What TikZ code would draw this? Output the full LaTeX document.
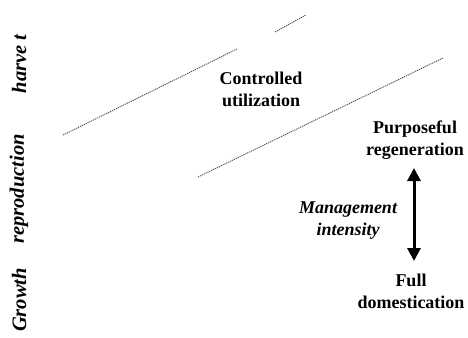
\documentclass[tikz,border=0pt]{standalone}
\usepackage{fontspec}
\setmainfont{Liberation Serif}
\usetikzlibrary{arrows.meta}
\tikzset{
  lbl/.style={font=\fontsize{18}{22}\selectfont\bfseries, align=center, inner sep=0pt},
  ilbl/.style={font=\fontsize{18}{22}\selectfont\bfseries\itshape, align=center, inner sep=0pt},
  axlbl/.style={font=\fontsize{20.5}{24}\selectfont\bfseries\itshape, rotate=90, inner sep=0pt},
  boundary/.style={draw=black!70, line width=0.9pt, dash pattern=on 1.2pt off 0.9pt},
  intens/.style={line width=3pt, {Triangle[width=13pt,length=13pt]}-{Triangle[width=13pt,length=13pt]}}
}
\begin{document}
\begin{tikzpicture}[x=1pt,y=-1pt]
\useasboundingbox (0,0) rectangle (468,337);
\node[axlbl] (harv) at (19,64) {harve t};
\node[axlbl] (repr) at (19,189) {reproduction};
\node[axlbl] (grow) at (19,300) {Growth};
\node[lbl] (cu) at (261,89) {Controlled\\utilization};
\node[lbl] (pr) at (415,140) {Purposeful\\regeneration};
\node[ilbl] (mi) at (348,221) {Management\\intensity};
\node[lbl] (fd) at (411,291) {Full\\domestication};
\coordinate (a1) at (63,135);
\coordinate (a2) at (237,49);
\coordinate (b1) at (275,32);
\coordinate (b2) at (306,15);
\coordinate (c1) at (198,177);
\coordinate (c2) at (443,58);
\coordinate (up) at (414,168);
\coordinate (dn) at (414,261);
\draw[boundary] (a1) -- (a2);
\draw[boundary] (b1) -- (b2);
\draw[boundary] (c1) -- (c2);
\draw[intens] (up) -- (dn);
\end{tikzpicture}
\end{document}
